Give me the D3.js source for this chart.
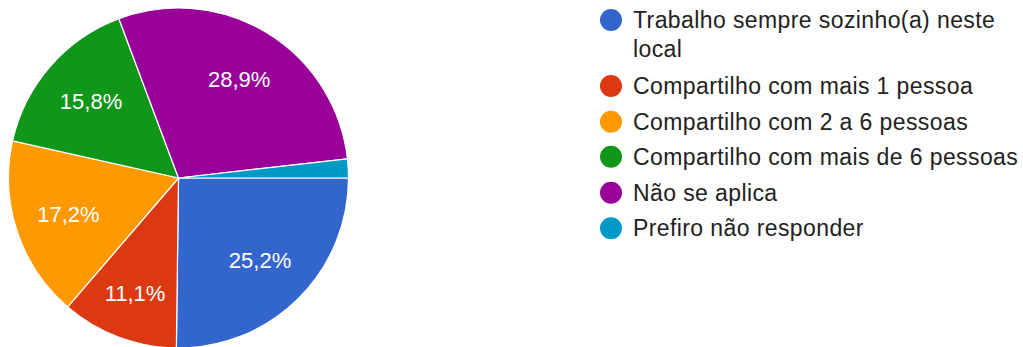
<!DOCTYPE html>
<html>
<head>
<meta charset="utf-8">
<script src="https://cdn.jsdelivr.net/npm/d3@7"></script>
<style>
  html, body { margin: 0; padding: 0; background: #fff; }
  svg { display: block; }
</style>
</head>
<body>
<svg id="chart" width="1023" height="347"></svg>
<script>
// Answer categories and their shares (percent)
const categories = [
  "Trabalho sempre sozinho(a) neste local",
  "Compartilho com mais 1 pessoa",
  "Compartilho com 2 a 6 pessoas",
  "Compartilho com mais de 6 pessoas",
  "Não se aplica",
  "Prefiro não responder"
];
const shares = [25.2, 11.1, 17.2, 15.8, 28.9, 1.8];
const colors = ["#3366cc", "#dc3912", "#ff9900", "#109618", "#990099", "#0099c6"];
// Legend text split into display lines
const legendLines = [
  ["Trabalho sempre sozinho(a) neste", "local"],
  ["Compartilho com mais 1 pessoa"],
  ["Compartilho com 2 a 6 pessoas"],
  ["Compartilho com mais de 6 pessoas"],
  ["Não se aplica"],
  ["Prefiro não responder"]
];

const fontFamily = "Arial, 'Liberation Sans', sans-serif";
const svg = d3.select("#chart");

const cx = 178.5, cy = 178, radius = 170;

const pie = d3.pie()
  .sort(null)
  .value(d => d.value)
  .startAngle(Math.PI / 2)
  .endAngle(Math.PI / 2 + 2 * Math.PI);

const data = categories.map((c, i) => ({ name: c, value: shares[i], color: colors[i] }));
const arcs = pie(data);

const arc = d3.arc().innerRadius(0).outerRadius(radius);
// small slices get their label pushed a little further out
const labelRadius = d => (d.data.value < 12 ? 123 : 116);

const g = svg.append("g").attr("transform", `translate(${cx},${cy})`);

g.selectAll("path.slice")
  .data(arcs)
  .join("path")
  .attr("class", "slice")
  .attr("d", arc)
  .attr("fill", d => d.data.color)
  .attr("stroke", "#fff")
  .attr("stroke-width", 1.2);

const fmt = v => v.toFixed(1).replace(".", ",") + "%";

g.selectAll("text.pct")
  .data(arcs.filter(d => d.data.value >= 5))
  .join("text")
  .attr("class", "pct")
  .attr("transform", d => {
    const r = labelRadius(d);
    return `translate(${d3.arc().innerRadius(r).outerRadius(r).centroid(d)})`;
  })
  .attr("text-anchor", "middle")
  .attr("dominant-baseline", "central")
  .attr("fill", "#fff")
  .style("font-family", fontFamily)
  .style("font-size", "22px")
  .text(d => fmt(d.data.value));

// Legend
const legendX = 611, legendTextX = 633;
const rowY = [20, 86, 121.7, 156.7, 192.7, 228.3];
const wrapGap = 29;

const legend = svg.append("g");
const items = legend.selectAll("g.item")
  .data(data)
  .join("g")
  .attr("class", "item")
  .attr("transform", (d, i) => `translate(0,${rowY[i]})`);

items.append("circle")
  .attr("cx", legendX)
  .attr("cy", 0)
  .attr("r", 11)
  .attr("fill", d => d.color);

items.each(function(d, i) {
  const t = d3.select(this).append("text")
    .attr("x", legendTextX)
    .attr("y", 0)
    .attr("fill", "#222")
    .style("font-family", fontFamily)
    .style("font-size", "23px")
    .style("letter-spacing", "0.4px");
  legendLines[i].forEach((line, j) => {
    t.append("tspan")
      .attr("x", legendTextX)
      .attr("y", j * wrapGap)
      .attr("dy", "0.35em")
      .text(line);
  });
});
</script>
</body>
</html>
